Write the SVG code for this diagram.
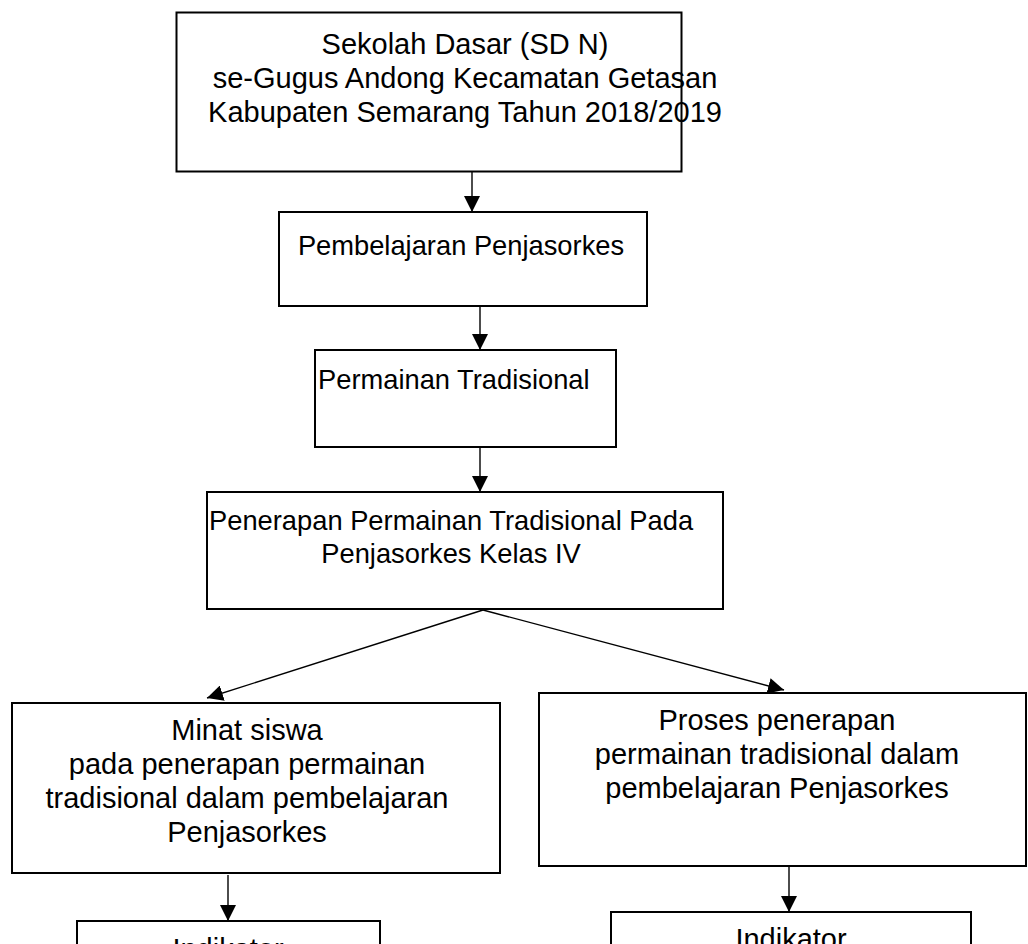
<svg xmlns="http://www.w3.org/2000/svg" width="1028" height="944" viewBox="0 0 1028 944">
<style>
.box{fill:#fff;stroke:#000;stroke-width:2}
.t{font-family:"Liberation Sans",Arial,sans-serif;font-size:29px;fill:#000}
.s{font-size:27.3px}
.m{text-anchor:middle}
.c{stroke:#000;stroke-width:1.4;fill:none;marker-end:url(#ah)}
</style>
<defs>
<marker id="ah" markerUnits="userSpaceOnUse" markerWidth="16" markerHeight="16" refX="16" refY="8" orient="auto">
<path d="M0,0 L16,8 L0,16 Z" fill="#000"/>
</marker>
</defs>
<rect width="1028" height="944" fill="#fff"/>
<g id="connectors">
<line class="c" x1="472" y1="171" x2="472" y2="212"/>
<line class="c" x1="480" y1="306" x2="480" y2="350"/>
<line class="c" x1="480" y1="447" x2="480" y2="492"/>
<line class="c" x1="483" y1="610" x2="207" y2="698"/>
<line class="c" x1="483" y1="610" x2="784" y2="690"/>
<line class="c" x1="228" y1="875" x2="228" y2="921"/>
<line class="c" x1="789" y1="866" x2="789" y2="912"/>
</g>
<g id="n1">
<rect class="box" x="176.5" y="12.5" width="505" height="159"/>
<text class="t m" x="465" y="54">Sekolah Dasar (SD N)</text>
<text class="t m" x="465" y="88">se-Gugus Andong Kecamatan Getasan</text>
<text class="t m" x="465" y="122">Kabupaten Semarang Tahun 2018/2019</text>
</g>
<g id="n2">
<rect class="box" x="279" y="212" width="368" height="94"/>
<text class="t s m" x="461" y="255">Pembelajaran Penjasorkes</text>
</g>
<g id="n3">
<rect class="box" x="315" y="350" width="301" height="97"/>
<text class="t s" x="318" y="389">Permainan Tradisional</text>
</g>
<g id="n4">
<rect class="box" x="207" y="492" width="516" height="117"/>
<text class="t s" x="209" y="530">Penerapan Permainan Tradisional Pada</text>
<text class="t s m" x="451" y="563">Penjasorkes Kelas IV</text>
</g>
<g id="n5">
<rect class="box" x="12" y="703" width="488" height="170"/>
<text class="t m" x="247" y="740">Minat siswa</text>
<text class="t m" x="247" y="774">pada penerapan permainan</text>
<text class="t m" x="247" y="808">tradisional dalam pembelajaran</text>
<text class="t m" x="247" y="842">Penjasorkes</text>
</g>
<g id="n6">
<rect class="box" x="539" y="693" width="487" height="173"/>
<text class="t m" x="777" y="730">Proses penerapan</text>
<text class="t m" x="777" y="764">permainan tradisional dalam</text>
<text class="t m" x="777" y="798">pembelajaran Penjasorkes</text>
</g>
<g id="n7">
<rect class="box" x="77" y="921" width="303" height="60"/>
<text class="t m" x="228" y="959">Indikator</text>
</g>
<g id="n8">
<rect class="box" x="611" y="912" width="360" height="60"/>
<text class="t m" x="791" y="949">Indikator</text>
</g>
</svg>
